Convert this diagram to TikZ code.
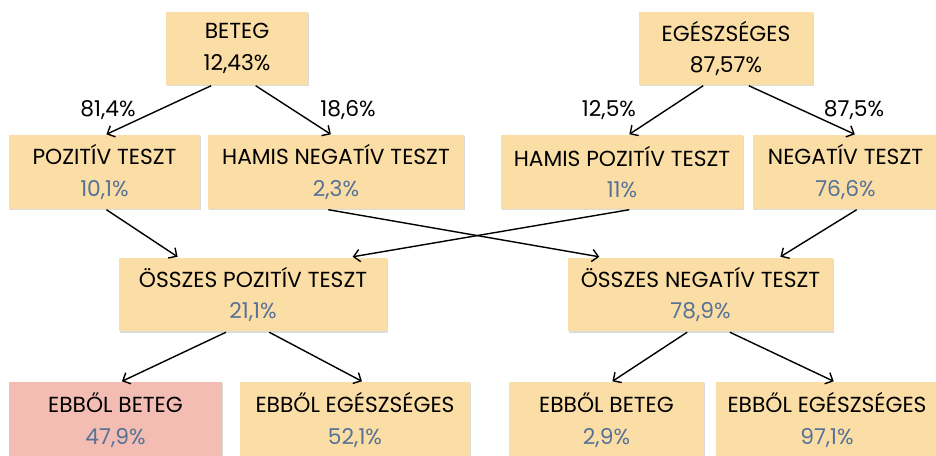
\documentclass[tikz,border=0pt]{standalone}
\usepackage{fontspec}
\setmainfont{Poppins}
\usepackage{xcolor}
\usetikzlibrary{calc, shadows, arrows.meta}

\definecolor{dobozszin}{RGB}{251,221,166}
\definecolor{betegszin}{RGB}{243,189,180}
\definecolor{szamszin}{RGB}{86,114,150}

\tikzset{
    doboz/.style={fill=dobozszin, align=center, inner sep=0pt,
        minimum height=1.48cm,
        font=\fontsize{12.4}{18}\selectfont,
        drop shadow={shadow xshift=0.7pt, shadow yshift=-0.7pt, fill=black!40, opacity=0.35}},
    arany/.style={font=\fontsize{12.4}{14}\selectfont}
}

\newcommand{\szam}[1]{{\color{szamszin}#1}}

\begin{document}
\begin{tikzpicture}[x=0.02cm, y=-0.02cm, >={Straight Barb[length=3.5pt, width=7pt]}, line width=0.8pt]
    \useasboundingbox (0,0) rectangle (936,456);

    % 1. Kiinduló csoportok
    \node[doboz, minimum width=2.84cm, minimum height=1.46cm] (beteg) at (237,48.5) {BETEG\\12,43\%};
    \node[doboz, minimum width=3.48cm, minimum height=1.46cm] (egesz) at (726,48.5) {EGÉSZSÉGES\\87,57\%};

    % 2. Tesztek eredménye
    \node[doboz, minimum width=3.82cm] (poz) at (104.5,172) {POZITÍV TESZT\\\szam{10,1\%}};
    \node[doboz, minimum width=5.12cm] (hamisneg) at (336,172) {HAMIS NEGATÍV TESZT\\\szam{2,3\%}};
    \node[doboz, minimum width=4.84cm] (hamispoz) at (622,172) {HAMIS POZITÍV TESZT\\\szam{11\%}};
    \node[doboz, minimum width=3.70cm] (neg) at (845.5,172) {NEGATÍV TESZT\\\szam{76,6\%}};

    % 3. Összesítés
    \node[doboz, minimum width=5.36cm] (osszpoz) at (253,294.5) {ÖSSZES POZITÍV TESZT\\\szam{21,1\%}};
    \node[doboz, minimum width=5.30cm] (osszneg) at (700.5,294.5) {ÖSSZES NEGATÍV TESZT\\\szam{78,9\%}};

    % 4. Megoszlás
    \node[doboz, fill=betegszin, minimum width=4.26cm, minimum height=1.52cm] (pbeteg) at (115.5,420) {EBBŐL BETEG\\\szam{47,9\%}};
    \node[doboz, minimum width=4.60cm, minimum height=1.52cm] (pegesz) at (355,420) {EBBŐL EGÉSZSÉGES\\\szam{52,1\%}};
    \node[doboz, minimum width=3.90cm, minimum height=1.52cm] (nbeteg) at (606.5,420) {EBBŐL BETEG\\\szam{2,9\%}};
    \node[doboz, minimum width=4.44cm, minimum height=1.52cm] (negesz) at (827,420) {EBBŐL EGÉSZSÉGES\\\szam{97,1\%}};

    % 5. Arányok
    \node[arany] (a1) at (108,110) {81,4\%};
    \node[arany] (a2) at (348,110) {18,6\%};
    \node[arany] (a3) at (609,110) {12,5\%};
    \node[arany] (a4) at (854,110) {87,5\%};

    % 6. Nyilak
    \foreach \a/\fa/\b/\fb in {beteg/0.32/poz/0.51, beteg/0.63/hamisneg/0.48,
            egesz/0.37/hamispoz/0.53, egesz/0.63/neg/0.55,
            poz/0.51/osszpoz/0.22, hamisneg/0.47/osszneg/0.12,
            hamispoz/0.53/osszpoz/0.87, neg/0.56/osszneg/0.80,
            osszpoz/0.40/pbeteg/0.53, osszpoz/0.56/pegesz/0.53,
            osszneg/0.45/nbeteg/0.53, osszneg/0.61/negesz/0.53} {
        \draw[->] ($(\a.south west)!\fa!(\a.south east)$) -- ($(\b.north west)!\fb!(\b.north east)$);
    }
\end{tikzpicture}
\end{document}
